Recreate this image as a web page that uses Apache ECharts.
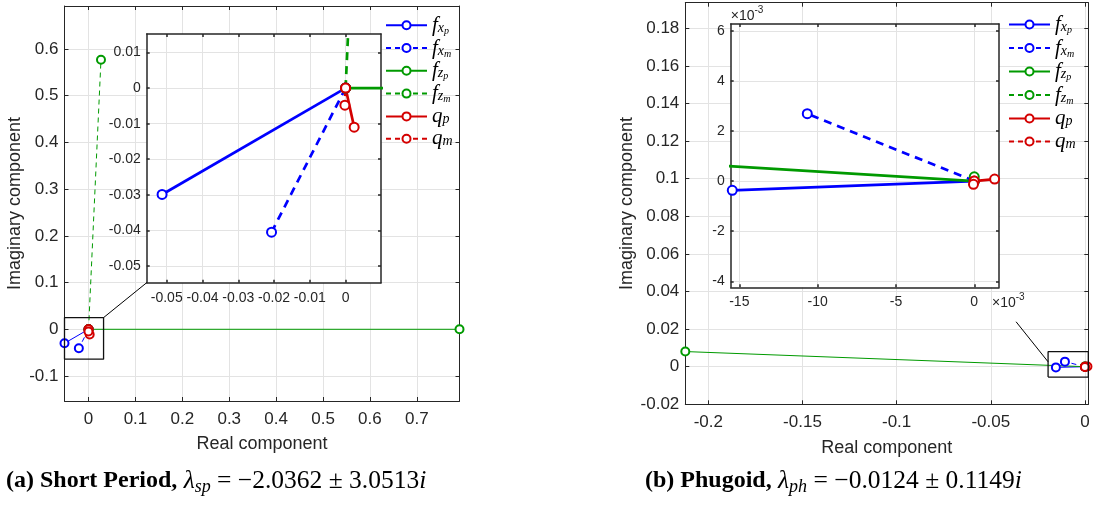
<!DOCTYPE html>
<html><head><meta charset="utf-8">
<script src="https://cdn.jsdelivr.net/npm/echarts@6/dist/echarts.min.js"></script>
<style>html,body{margin:0;padding:0;background:#fff}#c{width:1094px;height:508px}</style>
</head><body><div id="c"></div><script>
// ---------------- data ----------------
const seriesNames = ['fxp', 'fxm', 'fzp', 'fzm', 'qp', 'qm'];
const origin = [0, 0];
// (a) short period mode – end point of each component (real, imaginary)
const spEndReal = [-0.0513, -0.0207, 0.7910, 0.0265, 0.0024, -0.0002];
const spEndImag = [-0.0299, -0.0405, 0.0000, 0.5770, -0.0110, -0.0048];
// (b) phugoid mode
const phEndReal = [-0.01545, -0.01066, -0.21220, 0.00000, 0.00130, -0.00005];
const phEndImag = [-0.00037, 0.00269, 0.00805, 0.00017, 0.00008, -0.00013];
// axis limits
const spMainX = [-0.0513, 0.791], spMainY = [-0.1535, 0.692];
const spInsetX = [-0.0556, 0.0099], spInsetY = [-0.0547, 0.0152];
const phMainX = [-0.2122, 0.00175], phMainY = [-0.02, 0.1936];
const phInsetX = [-0.01555, 0.00158], phInsetY = [-0.00424, 0.00627];
// tick values
const spMainXTicks = [0, 0.1, 0.2, 0.3, 0.4, 0.5, 0.6, 0.7];
const spMainYTicks = [-0.1, 0, 0.1, 0.2, 0.3, 0.4, 0.5, 0.6];
const spInsetXTicks = [-0.05, -0.04, -0.03, -0.02, -0.01, 0];
const spInsetYTicks = [-0.05, -0.04, -0.03, -0.02, -0.01, 0, 0.01];
const phMainXTicks = [-0.2, -0.15, -0.1, -0.05, 0];
const phMainYTicks = [-0.02, 0, 0.02, 0.04, 0.06, 0.08, 0.1, 0.12, 0.14, 0.16, 0.18];
const phInsetXTicks = [-0.015, -0.01, -0.005, 0];
const phInsetYTicks = [-0.004, -0.002, 0, 0.002, 0.004, 0.006];
// zoom boxes and pointer (data coordinates of the main axes)
const spZoomBoxX = [-0.0513, 0.032], spZoomBoxY = [-0.064, 0.025];
const phZoomBoxX = [-0.0196, 0.00175], phZoomBoxY = [-0.0055, 0.008];
const phPointerFrom = [-0.0366, 0.0239], phPointerTo = [-0.0196, 0.0026];
// captions
const captionA = ['(a) Short Period,', 'λ', 'sp', ' = −2.0362 ± 3.0513', 'i'];
const captionB = ['(b) Phugoid,', 'λ', 'ph', ' = −0.0124 ± 0.1149', 'i'];

// ---------------- styles ----------------
const FONT = "'Liberation Sans', Arial, Helvetica, sans-serif";
const SERIF = "'Liberation Serif', 'Times New Roman', serif";
const AX = '#262626';
const GRIDC = '#e3e3e3';
const seriesColor = ['#0000ff', '#0000ff', '#009a00', '#009a00', '#d40000', '#d40000'];
const seriesDashed = [false, true, false, true, false, true];
const layout = {
  spMain: {left: 64.5, top: 6, width: 395, height: 395},
  spInset: {left: 146.7, top: 34, width: 234.3, height: 248.7},
  phMain: {left: 685.3, top: 2.7, width: 403, height: 401.6},
  phInset: {left: 730.7, top: 24, width: 268.3, height: 263.3}
};

const fmtPlain = v => String(Number(v.toFixed(6)));
const fmtMilli = v => String(Math.round(v * 1000));

function axisPair(dim, gridIndex, range, ticks, fmt, o) {
  const mk = (primary) => {
    const a = {
      type: 'value', gridIndex, min: range[0], max: range[1],
      position: dim === 'x' ? (primary ? 'bottom' : 'top') : (primary ? 'left' : 'right'),
      z: o.z,
      axisLine: {show: true, onZero: false, lineStyle: {color: AX, width: o.lw}},
      axisTick: {show: true, inside: true, length: o.tick, customValues: ticks, lineStyle: {color: AX, width: o.lw}},
      axisLabel: primary ? {show: true, customValues: ticks, formatter: fmt, color: AX,
        fontSize: o.fs, fontFamily: FONT, margin: dim === 'x' ? o.mx : o.my} : {show: false},
      splitLine: primary ? {show: true, lineStyle: {color: GRIDC, width: 1}} : {show: false},
      nameMoveOverlap: false
    };
    if (primary && o.name) {
      Object.assign(a, o.name);
    }
    return a;
  };
  return [mk(true), mk(false)];
}

const nameStyle = {fontSize: 18, color: AX, fontFamily: FONT};
const expRich = {
  a: {fontSize: 14, fontFamily: FONT, color: AX, verticalAlign: 'bottom', padding: [4, 0, 0, 0]},
  b: {fontSize: 10, fontFamily: FONT, color: AX, verticalAlign: 'top'}
};

const mainOpt = {z: 0, lw: 1, tick: 4, fs: 17, mx: 10, my: 6};
const insetOpt = {z: 10, lw: 1.5, tick: 3, fs: 14, mx: 8, my: 6};

const xAxes = [
  ...axisPair('x', 0, spMainX, spMainXTicks, fmtPlain, Object.assign({}, mainOpt, {name: {
    name: 'Real component', nameLocation: 'middle', nameGap: 34, nameTextStyle: nameStyle}})),
  ...axisPair('x', 1, spInsetX, spInsetXTicks, fmtPlain, insetOpt),
  ...axisPair('x', 2, phMainX, phMainXTicks, fmtPlain, Object.assign({}, mainOpt, {name: {
    name: 'Real component', nameLocation: 'middle', nameGap: 35, nameTextStyle: nameStyle}})),
  ...axisPair('x', 3, phInsetX, phInsetXTicks, fmtMilli, Object.assign({}, insetOpt, {name: {
    name: '{a|×10}{b|-3}', nameLocation: 'end', nameGap: -7,
    nameTextStyle: {align: 'left', verticalAlign: 'top', padding: [5, 0, 0, 0], rich: expRich}}}))
];
const yAxes = [
  ...axisPair('y', 0, spMainY, spMainYTicks, fmtPlain, Object.assign({}, mainOpt, {name: {
    name: 'Imaginary component', nameLocation: 'middle', nameGap: 40, nameRotate: 90, nameTextStyle: nameStyle}})),
  ...axisPair('y', 1, spInsetY, spInsetYTicks, fmtPlain, insetOpt),
  ...axisPair('y', 2, phMainY, phMainYTicks, fmtPlain, Object.assign({}, mainOpt, {name: {
    name: 'Imaginary component', nameLocation: 'middle', nameGap: 49, nameRotate: 90, nameTextStyle: nameStyle}})),
  ...axisPair('y', 3, phInsetY, phInsetYTicks, fmtMilli, Object.assign({}, insetOpt, {name: {
    name: '{a|×10}{b|-3}', nameLocation: 'end', nameGap: 1,
    nameTextStyle: {align: 'left', verticalAlign: 'bottom', rich: expRich}}}))
];

function gridOf(l, inset) {
  return Object.assign({}, l, {
    show: inset, backgroundColor: '#fff', borderWidth: 0, z: inset ? 10 : 0,
    containLabel: false, outerBoundsMode: 'none'
  });
}

function componentSeries(endReal, endImag, axisIndex, inset) {
  return seriesNames.map((name, i) => ({
    type: 'line', name,
    xAxisIndex: axisIndex, yAxisIndex: axisIndex,
    data: [origin, [endReal[i], endImag[i]]],
    clip: inset, z: inset ? 12 : 2,
    symbol: 'emptyCircle', symbolSize: inset ? 9 : 8, showAllSymbol: true,
    lineStyle: {color: seriesColor[i], width: inset ? 2.7 : 1,
      type: seriesDashed[i] ? (inset ? [8, 6] : [5, 4]) : 'solid'},
    itemStyle: {color: seriesColor[i], borderWidth: inset ? 2.6 : 1},
    emphasis: {disabled: true}, animation: false
  }));
}

function boxSeries(bx, by, axisIndex) {
  return {
    type: 'line', name: '_box', xAxisIndex: axisIndex, yAxisIndex: axisIndex,
    data: [[bx[0], by[0]], [bx[1], by[0]], [bx[1], by[1]], [bx[0], by[1]], [bx[0], by[0]]],
    symbol: 'none', clip: false, z: 4, silent: true,
    lineStyle: {color: '#111', width: 1.3}, emphasis: {disabled: true}, animation: false
  };
}

const legendRich = {
  f: {fontFamily: SERIF, fontStyle: 'italic', fontSize: 21, lineHeight: 22, verticalAlign: 'middle', color: '#000'},
  s: {fontFamily: SERIF, fontStyle: 'italic', fontSize: 14, verticalAlign: 'bottom', padding: [0, 0, 1, 0], color: '#000'},
  ss: {fontFamily: SERIF, fontStyle: 'italic', fontSize: 10, verticalAlign: 'bottom', color: '#000'}
};
const legendText = {
  fxp: '{f|f}{s|x}{ss|p}', fxm: '{f|f}{s|x}{ss|m}', fzp: '{f|f}{s|z}{ss|p}',
  fzm: '{f|f}{s|z}{ss|m}', qp: '{f|q}{s|p}', qm: '{f|q}{s|m}'
};
function legendOf(left, top, gap) {
  return {
    orient: 'vertical', left, top, padding: 0, itemGap: gap,
    itemWidth: 41, itemHeight: 10, data: seriesNames,
    formatter: n => legendText[n], textStyle: {rich: legendRich},
    selectedMode: false
  };
}

const capRich = {
  b: {fontFamily: SERIF, fontWeight: 'bold', fontSize: 24, lineHeight: 30, verticalAlign: 'middle', color: '#000'},
  l: {fontFamily: SERIF, fontStyle: 'italic', fontSize: 25.5, verticalAlign: 'middle', color: '#000'},
  sub: {fontFamily: SERIF, fontStyle: 'italic', fontSize: 18, verticalAlign: 'bottom', color: '#000'},
  r: {fontFamily: SERIF, fontSize: 25.5, verticalAlign: 'middle', color: '#000'}
};
function captionText(c) {
  return '{b|' + c[0] + '}{r| }{l|' + c[1] + '}{sub|' + c[2] + '}{r|' + c[3] + '}{l|' + c[4] + '}';
}

const option = {
  backgroundColor: '#fff',
  animation: false,
  title: [
    {text: captionText(captionA), left: 6, top: 466, padding: 0,
      textStyle: {rich: capRich, fontSize: 24, fontWeight: 'normal', fontFamily: SERIF, color: '#000'}},
    {text: captionText(captionB), left: 645, top: 466, padding: 0,
      textStyle: {rich: capRich, fontSize: 24, fontWeight: 'normal', fontFamily: SERIF, color: '#000'}}
  ],
  legend: [legendOf(385, 14.7, 1.3), legendOf(1008, 14, 2)],
  grid: [gridOf(layout.spMain, false), gridOf(layout.spInset, true),
         gridOf(layout.phMain, false), gridOf(layout.phInset, true)],
  xAxis: xAxes,
  yAxis: yAxes,
  series: [
    ...componentSeries(spEndReal, spEndImag, 0, false),
    ...componentSeries(phEndReal, phEndImag, 4, false),
    ...componentSeries(spEndReal, spEndImag, 2, true),
    ...componentSeries(phEndReal, phEndImag, 6, true),
    boxSeries(spZoomBoxX, spZoomBoxY, 0),
    boxSeries(phZoomBoxX, phZoomBoxY, 4),
    {type: 'line', name: '_pointer', xAxisIndex: 4, yAxisIndex: 4,
      data: [phPointerFrom, phPointerTo], symbol: 'none', clip: false, z: 4, silent: true,
      lineStyle: {color: '#000', width: 1}, emphasis: {disabled: true}, animation: false}
  ]
};

const chart = echarts.init(document.getElementById('c'), null, {renderer: 'canvas'});
chart.setOption(option);
// connector from the zoom box corner to the inset corner
const p1 = chart.convertToPixel({xAxisIndex: 0, yAxisIndex: 0}, [spZoomBoxX[1], spZoomBoxY[1]]);
const p2 = chart.convertToPixel({xAxisIndex: 2, yAxisIndex: 2}, [spInsetX[0], spInsetY[0]]);
chart.setOption({graphic: [{type: 'line', z: 20, silent: true,
  shape: {x1: p1[0], y1: p1[1], x2: p2[0], y2: p2[1]}, style: {stroke: '#000', lineWidth: 1}}]});
</script></body></html>
